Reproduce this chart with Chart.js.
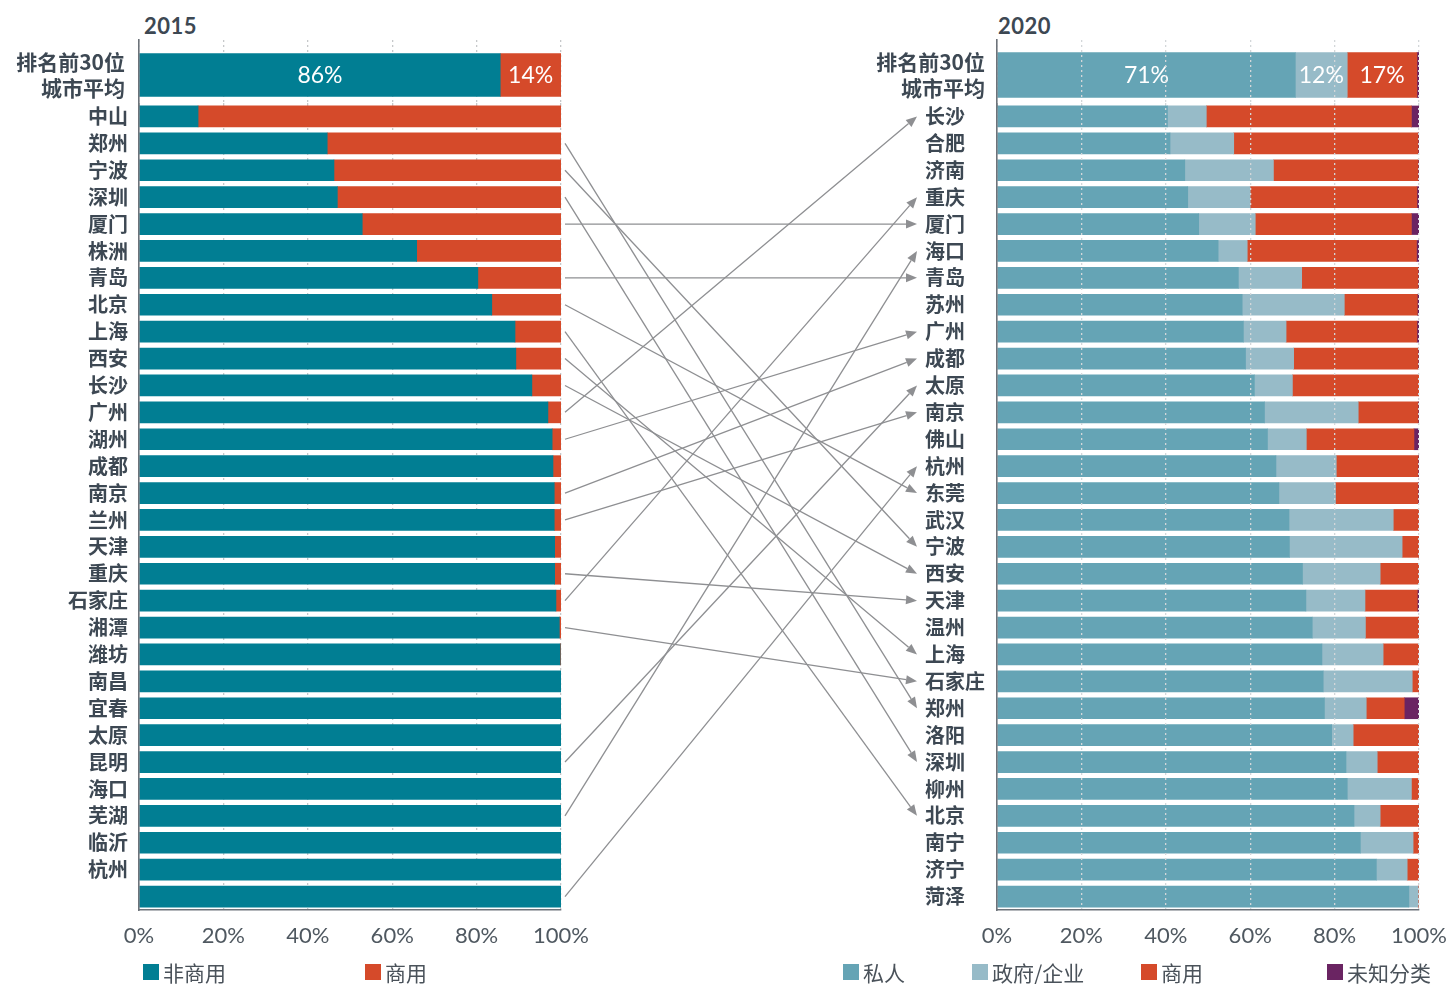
<!DOCTYPE html>
<html>
<head>
<meta charset="utf-8">
<script src="https://cdn.jsdelivr.net/npm/chart.js@4.4.1/dist/chart.umd.min.js"></script>
<style>
  html, body { margin: 0; padding: 0; background: #fff; overflow: hidden; }
  #page { position: relative; width: 1449px; height: 984px; overflow: hidden; }
  #page canvas { position: absolute; }
  .yr { position: absolute; top: 12px; line-height: 22px; font: bold 22px Lato, sans-serif; color: #3d4853; letter-spacing: 0.5px; }
  .lg { position: absolute; top: 960px; height: 24px; display: flex; align-items: center;
        font: 21px 'Noto Sans CJK SC', sans-serif; color: #4a525a; }
  .lg i { display: inline-block; width: 16px; height: 16px; margin-right: 4px; }
</style>
</head>
<body>
<div id="page">
  <div class="yr" style="left:144px">2015</div>
  <div class="yr" style="left:998px">2020</div>

  <canvas id="avg2015" width="600" height="110" style="left:0;top:0"></canvas>
  <canvas id="city2015" width="600" height="870" style="left:0;top:103px"></canvas>
  <canvas id="avg2020" width="620" height="110" style="left:850px;top:0"></canvas>
  <canvas id="city2020" width="545" height="870" style="left:925px;top:103px"></canvas>
  <canvas id="links" width="1449" height="984" style="left:0;top:0;pointer-events:none"></canvas>

  <div class="lg" style="left:143px"><i style="background:#017e93"></i>非商用</div>
  <div class="lg" style="left:365px"><i style="background:#d54a2a"></i>商用</div>
  <div class="lg" style="left:843px"><i style="background:#65a4b5"></i>私人</div>
  <div class="lg" style="left:972px"><i style="background:#97bbc8"></i>政府/企业</div>
  <div class="lg" style="left:1141px"><i style="background:#d54a2a"></i>商用</div>
  <div class="lg" style="left:1327px"><i style="background:#6a2462"></i>未知分类</div>
</div>

<script>
// ---- data ----
const avgLabel = [['排名前30位', '城市平均']];

// 2015 (the last bar has no label in the original)
const cities2015 = ['中山', '郑州', '宁波', '深圳', '厦门', '株洲', '青岛', '北京', '上海', '西安',
  '长沙', '广州', '湖州', '成都', '南京', '兰州', '天津', '重庆', '石家庄', '湘潭',
  '潍坊', '南昌', '宜春', '太原', '昆明', '海口', '芜湖', '临沂', '杭州', ''];
const nonCommercial2015 = [14.0, 44.6, 46.2, 47.0, 52.9, 65.8, 80.3, 83.6, 89.1, 89.3,
  93.1, 96.9, 97.9, 98.1, 98.4, 98.4, 98.5, 98.5, 98.8, 99.6,
  99.8, 100, 100, 100, 100, 100, 100, 100, 100, 100];
const commercial2015 = [86.0, 55.4, 53.8, 53.0, 47.1, 34.2, 19.7, 16.4, 10.9, 10.7,
  6.9, 3.1, 2.1, 1.9, 1.6, 1.6, 1.5, 1.5, 1.2, 0.4,
  0.2, 0, 0, 0, 0, 0, 0, 0, 0, 0];
const avgNonCommercial2015 = [85.6];
const avgCommercial2015 = [14.4];

// 2020
const cities2020 = ['长沙', '合肥', '济南', '重庆', '厦门', '海口', '青岛', '苏州', '广州', '成都',
  '太原', '南京', '佛山', '杭州', '东莞', '武汉', '宁波', '西安', '天津', '温州',
  '上海', '石家庄', '郑州', '洛阳', '深圳', '柳州', '北京', '南宁', '济宁', '菏泽'];
const private2020 = [40.4, 41.0, 44.5, 45.2, 47.8, 52.4, 57.2, 58.1, 58.4, 58.9,
  61.0, 63.4, 64.1, 66.1, 66.8, 69.2, 69.3, 72.4, 73.2, 74.7,
  77.0, 77.3, 77.6, 79.3, 82.7, 83.0, 84.6, 86.1, 89.9, 97.6];
const government2020 = [9.2, 15.1, 21.0, 14.8, 13.4, 6.9, 15.0, 24.2, 10.1, 11.4,
  9.0, 22.2, 9.2, 14.3, 13.4, 24.7, 26.7, 18.4, 14.0, 12.6,
  14.5, 21.1, 9.9, 5.1, 7.4, 15.2, 6.2, 12.5, 7.3, 2.2];
const commercial2020 = [48.6, 43.7, 34.3, 39.5, 37.0, 40.1, 27.6, 17.3, 31.0, 29.5,
  30.0, 14.2, 25.5, 19.4, 19.6, 6.0, 3.9, 9.1, 12.4, 12.6,
  8.4, 1.5, 9.0, 15.5, 9.8, 1.7, 9.1, 1.3, 2.7, 0.2];
const unknown2020 = [1.8, 0.2, 0.2, 0.5, 1.8, 0.6, 0.2, 0.4, 0.5, 0.2,
  0.0, 0.2, 1.2, 0.2, 0.2, 0.1, 0.1, 0.1, 0.4, 0.1,
  0.1, 0.3, 3.5, 0.1, 0.1, 0.1, 0.1, 0.1, 0.1, 0.0];
const avgPrivate2020 = [70.7];
const avgGovernment2020 = [12.3];
const avgCommercial2020 = [16.5];
const avgUnknown2020 = [0.5];

const xTicks = [0, 20, 40, 60, 80, 100];

// connector: [row of 2015 bar, city in 2020]
const links = [[1, '郑州'], [2, '宁波'], [3, '深圳'], [4, '厦门'], [6, '青岛'], [7, '东莞'],
  [8, '北京'], [9, '上海'], [10, '西安'], [11, '长沙'], [12, '广州'], [14, '成都'],
  [15, '南京'], [17, '天津'], [18, '重庆'], [19, '石家庄'], [24, '太原'], [26, '海口'], [29, '杭州']];

// ---- styles ----
const TEAL = '#017e93', RED = '#d54a2a', PRIV = '#65a4b5', GOV = '#97bbc8', UNK = '#6a2462';
const INK = '#3d4853', AXIS = '#6d737a', LINK = '#8e8f92';
const cjk = "'Noto Sans CJK SC', sans-serif";
const latin = "Lato, 'Noto Sans', sans-serif";

const inBarLabels = {
  id: 'inBarLabels',
  afterDatasetsDraw(chart) {
    const ctx = chart.ctx;
    ctx.save();
    ctx.font = '23px ' + latin;
    ctx.fillStyle = '#fff';
    ctx.textAlign = 'center';
    ctx.textBaseline = 'middle';
    chart.data.datasets.forEach((ds, i) => {
      if (!ds.showValue) return;
      chart.getDatasetMeta(i).data.forEach((bar, j) => {
        ctx.fillText(Math.round(ds.data[j]) + '%', (bar.base + bar.x) / 2, bar.y + 1);
      });
    });
    ctx.restore();
  }
};

function makeChart(id, labels, datasets, o) {
  return new Chart(document.getElementById(id), {
    type: 'bar',
    data: { labels: labels, datasets: datasets },
    plugins: [inBarLabels],
    options: {
      indexAxis: 'y',
      responsive: false,
      animation: false,
      events: [],
      layout: { padding: o.padding },
      plugins: { legend: { display: false }, tooltip: { enabled: false } },
      scales: {
        x: {
          stacked: true,
          min: 0,
          max: 100,
          afterBuildTicks: ax => { ax.ticks = xTicks.map(v => ({ value: v })); },
          afterFit: ax => { ax.height = o.xHeight; ax.paddingLeft = 0; ax.paddingRight = 0; },
          ticks: {
            display: o.xHeight > 0,
            padding: 13,
            maxRotation: 0,
            color: '#4f5860',
            font: { family: latin, size: 22 },
            callback: v => v + '%'
          },
          grid: { color: o.gridColor, lineWidth: 1.3, drawTicks: false, z: o.gridZ },
          border: { display: o.xHeight > 0, color: AXIS, width: 1.6, dash: [2, 3], z: 2 }
        },
        y: {
          stacked: true,
          afterFit: ax => { ax.width = o.yWidth; ax.paddingTop = 0; ax.paddingBottom = 0; },
          grid: { display: false, drawTicks: false },
          border: { display: true, color: AXIS, width: 1.6, z: 2 },
          ticks: {
            autoSkip: false,
            padding: o.tickPad,
            crossAlign: o.align,
            color: INK,
            font: { family: cjk, size: o.labelSize, weight: 'bold', lineHeight: 1.2 }
          }
        }
      }
    }
  });
}

const bar = (data, color, thick, showValue) =>
  ({ data: data, backgroundColor: color, barThickness: thick, borderWidth: 0, showValue: !!showValue });

makeChart('avg2015', avgLabel, [
  bar(avgNonCommercial2015, TEAL, 43, true),
  bar(avgCommercial2015, RED, 43, true)
], { padding: { top: 40, right: 39, bottom: 0, left: 0 }, xHeight: 0, yWidth: 139, tickPad: 14,
     labelSize: 21, align: 'near', gridColor: '#c6c8ca', gridZ: 0 });

const left = makeChart('city2015', cities2015, [
  bar(nonCommercial2015, TEAL, 21),
  bar(commercial2015, RED, 21)
], { padding: { top: 0, right: 39, bottom: 0, left: 0 }, xHeight: 63, yWidth: 139, tickPad: 11,
     labelSize: 20, align: 'near', gridColor: '#c6c8ca', gridZ: 0 });

makeChart('avg2020', avgLabel, [
  bar(avgPrivate2020, PRIV, 45, true),
  bar(avgGovernment2020, GOV, 45, true),
  bar(avgCommercial2020, RED, 45, true),
  bar(avgUnknown2020, UNK, 45)
], { padding: { top: 40, right: 51, bottom: 0, left: 0 }, xHeight: 0, yWidth: 147, tickPad: 12,
     labelSize: 21, align: 'near', gridColor: '#d3d7d9', gridZ: 1 });

const right = makeChart('city2020', cities2020, [
  bar(private2020, PRIV, 21),
  bar(government2020, GOV, 21),
  bar(commercial2020, RED, 21),
  bar(unknown2020, UNK, 21)
], { padding: { top: 0, right: 51, bottom: 0, left: 0 }, xHeight: 63, yWidth: 72, tickPad: 10,
     labelSize: 20, align: 'far', gridColor: '#d3d7d9', gridZ: 1 });

// ---- connectors between the two panels ----
function drawLinks() {
  const cv = document.getElementById('links');
  const ctx = cv.getContext('2d');
  const lc = left.canvas, rc = right.canvas;
  const x1 = lc.offsetLeft + left.chartArea.right + 4;
  const x2 = rc.offsetLeft + right.chartArea.left - 80;
  ctx.strokeStyle = LINK;
  ctx.fillStyle = LINK;
  ctx.lineWidth = 1.3;
  links.forEach(([row, name]) => {
    const y1 = lc.offsetTop + left.scales.y.getPixelForValue(row);
    const y2 = rc.offsetTop + right.scales.y.getPixelForValue(cities2020.indexOf(name));
    const a = Math.atan2(y2 - y1, x2 - x1);
    const L = 11, W = 4.5;
    const bx = x2 - L * Math.cos(a), by = y2 - L * Math.sin(a);
    ctx.beginPath();
    ctx.moveTo(x1, y1);
    ctx.lineTo(bx, by);
    ctx.stroke();
    ctx.beginPath();
    ctx.moveTo(x2, y2);
    ctx.lineTo(bx - W * Math.sin(a), by + W * Math.cos(a));
    ctx.lineTo(bx + W * Math.sin(a), by - W * Math.cos(a));
    ctx.closePath();
    ctx.fill();
  });
}
drawLinks();
</script>
</body>
</html>
